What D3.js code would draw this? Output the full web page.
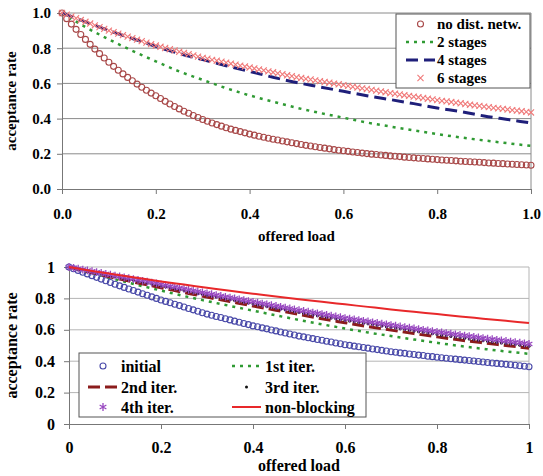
<!DOCTYPE html>
<html>
<head>
<meta charset="utf-8">
<script src="https://cdn.jsdelivr.net/npm/d3@7"></script>
</head>
<body style="margin:0;background:#fff">
<svg id="chart" width="543" height="476"></svg>
<script>
// offered load grid (markers every 0.01, lines every 0.05)
const loadFine = d3.range(0, 101).map(i => i / 100);
const loadCoarse = d3.range(0, 21).map(i => i / 20);

const topTickLabels = ["0.0", "0.2", "0.4", "0.6", "0.8", "1.0"];
const bottomTickLabels = ["0", "0.2", "0.4", "0.6", "0.8", "1"];

// ---- top chart
const noDistNetw = [1.000,0.968,0.937,0.907,0.878,0.850,0.822,0.795,0.769,0.744,0.720,
  0.697,0.675,0.654,0.634,0.615,0.596,0.578,0.561,0.545,0.530,
  0.514,0.498,0.483,0.469,0.455,0.442,0.430,0.418,0.406,0.395,
  0.385,0.375,0.366,0.357,0.348,0.340,0.333,0.326,0.319,0.312,
  0.306,0.300,0.294,0.288,0.283,0.278,0.273,0.268,0.263,0.258,
  0.253,0.248,0.244,0.240,0.236,0.232,0.228,0.224,0.220,0.217,
  0.214,0.210,0.207,0.204,0.201,0.198,0.196,0.193,0.191,0.188,
  0.186,0.184,0.181,0.179,0.177,0.175,0.173,0.171,0.169,0.167,
  0.165,0.163,0.162,0.160,0.158,0.156,0.155,0.153,0.152,0.150,
  0.148,0.147,0.145,0.144,0.142,0.141,0.139,0.138,0.136,0.135];
const stages2 = [1.000,0.920,0.850,0.785,0.725,0.668,0.620,0.573,0.532,0.496,0.462,
  0.432,0.405,0.378,0.355,0.333,0.312,0.293,0.276,0.260,0.245];
const stages4 = [1.000,0.950,0.900,0.855,0.810,0.770,0.735,0.700,0.668,0.635,0.605,
  0.580,0.555,0.530,0.508,0.485,0.460,0.440,0.415,0.395,0.375];
const stages6 = [1.000,0.990,0.980,0.970,0.960,0.950,0.940,0.930,0.920,0.910,0.900,
  0.891,0.883,0.874,0.866,0.857,0.849,0.840,0.832,0.823,0.815,
  0.808,0.801,0.794,0.787,0.780,0.773,0.766,0.759,0.752,0.745,
  0.740,0.734,0.729,0.723,0.718,0.712,0.707,0.701,0.696,0.690,
  0.685,0.679,0.674,0.668,0.663,0.657,0.652,0.646,0.641,0.635,
  0.631,0.626,0.622,0.617,0.613,0.608,0.604,0.599,0.595,0.590,
  0.586,0.581,0.577,0.572,0.568,0.563,0.559,0.554,0.550,0.545,
  0.541,0.537,0.533,0.529,0.525,0.521,0.517,0.513,0.509,0.505,
  0.501,0.498,0.494,0.490,0.487,0.483,0.479,0.475,0.472,0.468,
  0.465,0.461,0.458,0.455,0.452,0.448,0.445,0.442,0.438,0.435];

// ---- bottom chart
const initial = [1.000,0.989,0.978,0.967,0.956,0.945,0.934,0.923,0.912,0.901,0.890,
  0.880,0.870,0.860,0.850,0.840,0.830,0.820,0.810,0.800,0.790,
  0.781,0.772,0.763,0.754,0.745,0.736,0.727,0.718,0.709,0.700,
  0.693,0.685,0.678,0.670,0.663,0.655,0.648,0.640,0.633,0.625,
  0.619,0.612,0.606,0.599,0.593,0.586,0.580,0.573,0.567,0.560,
  0.555,0.549,0.544,0.538,0.533,0.527,0.522,0.516,0.511,0.505,
  0.501,0.496,0.492,0.487,0.483,0.478,0.474,0.469,0.465,0.460,
  0.457,0.453,0.450,0.446,0.443,0.439,0.436,0.432,0.429,0.425,
  0.422,0.419,0.416,0.413,0.410,0.407,0.404,0.401,0.398,0.395,
  0.392,0.389,0.386,0.383,0.380,0.377,0.374,0.371,0.368,0.365];
const iter1 = [1.000,0.960,0.922,0.885,0.850,0.815,0.783,0.752,0.722,0.692,0.663,
  0.635,0.608,0.583,0.560,0.538,0.517,0.497,0.479,0.462,0.447];
const iter2 = [1.000,0.965,0.930,0.898,0.868,0.838,0.808,0.780,0.752,0.725,0.698,
  0.670,0.645,0.620,0.598,0.576,0.555,0.535,0.517,0.500,0.483];
const iter3 = [1.000,0.994,0.988,0.982,0.976,0.970,0.964,0.958,0.952,0.946,0.940,
  0.934,0.928,0.922,0.916,0.910,0.904,0.898,0.892,0.886,0.880,
  0.874,0.868,0.862,0.856,0.850,0.844,0.838,0.832,0.826,0.820,
  0.815,0.809,0.804,0.798,0.793,0.787,0.782,0.776,0.771,0.765,
  0.760,0.754,0.749,0.743,0.738,0.732,0.727,0.721,0.716,0.710,
  0.705,0.700,0.695,0.690,0.685,0.680,0.675,0.670,0.665,0.660,
  0.656,0.651,0.647,0.642,0.638,0.633,0.629,0.624,0.620,0.615,
  0.611,0.606,0.602,0.597,0.593,0.588,0.584,0.579,0.575,0.570,
  0.566,0.562,0.558,0.554,0.550,0.546,0.542,0.538,0.534,0.530,
  0.527,0.523,0.520,0.516,0.513,0.509,0.506,0.502,0.499,0.495];
const iter4 = [1.000,0.995,0.989,0.984,0.978,0.973,0.967,0.962,0.956,0.951,0.945,
  0.940,0.934,0.929,0.923,0.918,0.912,0.907,0.901,0.896,0.890,
  0.884,0.878,0.873,0.867,0.861,0.855,0.849,0.844,0.838,0.832,
  0.827,0.821,0.816,0.810,0.805,0.800,0.794,0.789,0.783,0.778,
  0.773,0.767,0.762,0.757,0.752,0.746,0.741,0.736,0.730,0.725,
  0.720,0.715,0.710,0.705,0.700,0.695,0.690,0.685,0.680,0.675,
  0.671,0.666,0.662,0.657,0.653,0.648,0.644,0.639,0.635,0.630,
  0.626,0.621,0.617,0.613,0.609,0.604,0.600,0.596,0.591,0.587,
  0.583,0.579,0.575,0.571,0.567,0.563,0.559,0.555,0.551,0.547,
  0.543,0.540,0.536,0.532,0.529,0.525,0.521,0.518,0.514,0.510];
const nonBlocking = [1.000,0.975,0.952,0.930,0.908,0.888,0.868,0.848,0.830,0.812,0.795,
  0.778,0.762,0.746,0.730,0.715,0.700,0.685,0.671,0.657,0.643];

const FONT = "Liberation Serif";
const svg = d3.select("#chart");
const symTimes = d3.symbolTimes || d3.symbolX;

const label = (sel) => sel.attr("font-family", FONT).attr("font-weight", "bold").attr("fill", "#000");

const drawMarks = (sel, pts, s) => {
  if (s.kind === "circle") {
    sel.selectAll("circle").data(pts).enter().append("circle")
      .attr("cx", d => d[0]).attr("cy", d => d[1]).attr("r", s.r)
      .attr("fill", "none").attr("stroke", s.color).attr("stroke-width", 1.1);
  } else if (s.kind === "dot") {
    sel.selectAll("circle").data(pts).enter().append("circle")
      .attr("cx", d => d[0]).attr("cy", d => d[1]).attr("r", s.r)
      .attr("fill", s.color);
  } else {
    const shape = s.kind === "times" ? symTimes : d3.symbolAsterisk;
    const sym = d3.symbol().type(shape).size(s.size);
    sel.selectAll("path").data(pts).enter().append("path")
      .attr("transform", d => "translate(" + d[0] + "," + d[1] + ")")
      .attr("d", sym).attr("fill", "none").attr("stroke", s.color).attr("stroke-width", s.sw || 1.1);
  }
};

const drawPanel = (cfg) => {
  const x = d3.scaleLinear().domain([0, 1]).range([cfg.left, cfg.right]);
  const y = d3.scaleLinear().domain([0, 1]).range([cfg.bottom, cfg.top]);
  const ticks = [0, 0.2, 0.4, 0.6, 0.8, 1];
  const g = svg.append("g");

  // gridlines + frame
  g.selectAll(".grid").data(ticks.slice(1)).enter().append("line")
    .attr("x1", cfg.left).attr("x2", cfg.right)
    .attr("y1", d => y(d)).attr("y2", d => y(d))
    .attr("stroke", cfg.gridColor).attr("stroke-width", 1);
  g.append("line")
    .attr("x1", cfg.right).attr("x2", cfg.right)
    .attr("y1", cfg.top).attr("y2", cfg.bottom)
    .attr("stroke", cfg.gridColor);

  const xAxis = g.append("g")
    .attr("transform", "translate(0," + cfg.bottom + ")")
    .call(d3.axisBottom(x).tickValues(ticks).tickFormat((d, i) => cfg.tickLabels[i])
      .tickSizeInner(5).tickSizeOuter(0).tickPadding(cfg.xPad));
  const yAxis = g.append("g")
    .attr("transform", "translate(" + cfg.left + ",0)")
    .call(d3.axisLeft(y).tickValues(ticks).tickFormat((d, i) => cfg.tickLabels[i])
      .tickSizeInner(5).tickSizeOuter(0).tickPadding(cfg.yPad));
  [xAxis, yAxis].forEach(a => {
    a.attr("font-family", FONT);
    a.selectAll("path, line").attr("stroke", "#777");
    a.selectAll("text").call(label).attr("font-size", cfg.fontSize);
  });

  g.append("text").attr("x", (cfg.left + cfg.right) / 2).attr("y", cfg.xTitleY)
    .attr("text-anchor", "middle").attr("font-size", cfg.fontSize).call(label).text("offered load");
  g.append("text")
    .attr("transform", "translate(" + cfg.yTitleX + "," + (cfg.top + cfg.bottom) / 2 + ") rotate(-90)")
    .attr("text-anchor", "middle").attr("font-size", cfg.fontSize).call(label).text("acceptance rate");

  const line = d3.line().x(d => x(d[0])).y(d => y(d[1])).curve(d3.curveMonotoneX);

  cfg.series.forEach(s => {
    const xs = s.values.length === loadFine.length ? loadFine : loadCoarse;
    const pts = s.values.map((v, i) => [xs[i], v]);
    if (s.kind === "line") {
      g.append("path").datum(pts).attr("d", line)
        .attr("fill", "none").attr("stroke", s.color)
        .attr("stroke-width", s.width).attr("stroke-dasharray", s.dash || null);
    } else {
      drawMarks(g.append("g"), pts.map(p => [x(p[0]), y(p[1])]), s);
    }
  });

  // legend
  const lg = g.append("g");
  lg.append("rect").attr("x", cfg.legend.x).attr("y", cfg.legend.y)
    .attr("width", cfg.legend.w).attr("height", cfg.legend.h)
    .attr("fill", "#fff").attr("stroke", "#555").attr("stroke-width", 1);
  cfg.series.forEach(s => {
    const p = s.legend;
    if (s.kind === "line") {
      lg.append("line").attr("x1", p.x1).attr("x2", p.x2).attr("y1", p.y).attr("y2", p.y)
        .attr("stroke", s.color).attr("stroke-width", s.width)
        .attr("stroke-dasharray", s.dash || null);
    } else {
      drawMarks(lg.append("g"), [[(p.x1 + p.x2) / 2, p.y]], s);
    }
    lg.append("text").attr("x", p.tx).attr("y", p.y).attr("dy", "0.35em")
      .attr("font-size", cfg.legendFont).call(label).text(s.name);
  });
};

drawPanel({
  left: 62, right: 531, top: 13, bottom: 189,
  tickLabels: topTickLabels, fontSize: 15, legendFont: 15, xPad: 14, yPad: 6,
  xTitleY: 241, yTitleX: 16, gridColor: "#8a8a8a",
  legend: { x: 396, y: 14, w: 134, h: 74 },
  series: [
    { name: "no dist. netw.", kind: "circle", values: noDistNetw, color: "#a84848", r: 3,
      legend: { x1: 406, x2: 435, y: 24, tx: 437 } },
    { name: "2 stages", kind: "line", values: stages2, color: "#2f9a33", width: 2.5, dash: "3,5",
      legend: { x1: 406, x2: 435, y: 42, tx: 437 } },
    { name: "4 stages", kind: "line", values: stages4, color: "#1f1f7a", width: 3, dash: "12,6",
      legend: { x1: 406, x2: 435, y: 60, tx: 437 } },
    { name: "6 stages", kind: "times", values: stages6, color: "#f07a7a", size: 26,
      legend: { x1: 406, x2: 435, y: 78, tx: 437 } }
  ]
});

drawPanel({
  left: 69, right: 529, top: 267, bottom: 424,
  tickLabels: bottomTickLabels, fontSize: 16, legendFont: 16, xPad: 13, yPad: 9,
  xTitleY: 471, yTitleX: 17, gridColor: "#b5b5b5",
  legend: { x: 79, y: 353, w: 287, h: 64 },
  series: [
    { name: "initial", kind: "circle", values: initial, color: "#4848a8", r: 3,
      legend: { x1: 88, x2: 118, y: 366, tx: 121 } },
    { name: "1st iter.", kind: "line", values: iter1, color: "#2f9a33", width: 2.5, dash: "3,5",
      legend: { x1: 232, x2: 261, y: 366, tx: 265 } },
    { name: "2nd iter.", kind: "line", values: iter2, color: "#8b1c1c", width: 3, dash: "12,5",
      legend: { x1: 88, x2: 118, y: 387, tx: 121 } },
    { name: "3rd iter.", kind: "dot", values: iter3, color: "#111", r: 1.5,
      legend: { x1: 232, x2: 261, y: 387, tx: 265 } },
    { name: "4th iter.", kind: "asterisk", values: iter4, color: "#9848c0", size: 42, sw: 1.3,
      legend: { x1: 88, x2: 118, y: 407, tx: 121 } },
    { name: "non-blocking", kind: "line", values: nonBlocking, color: "#e8282a", width: 2,
      legend: { x1: 232, x2: 261, y: 407, tx: 265 } }
  ]
});
</script>
</body>
</html>
